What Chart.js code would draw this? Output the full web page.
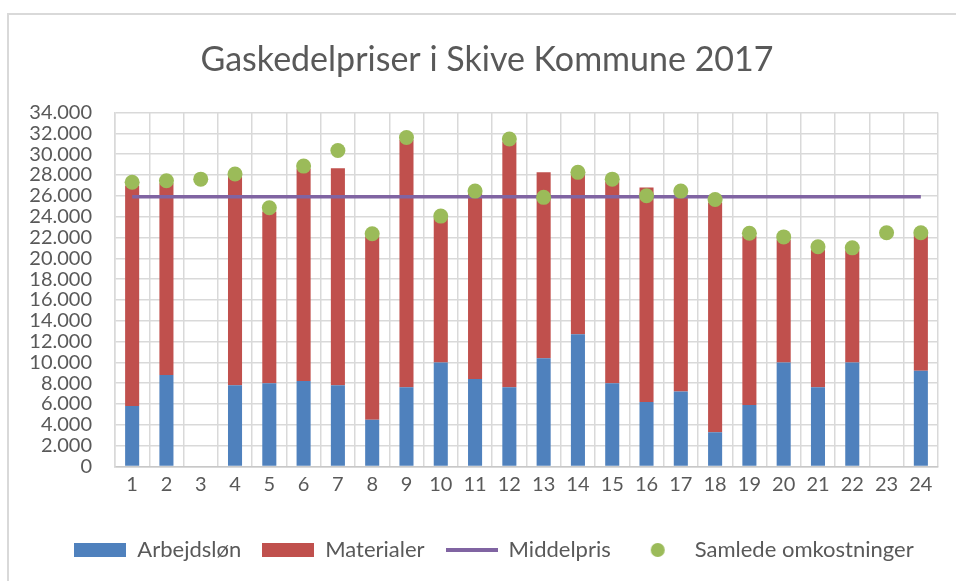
<!DOCTYPE html>
<html>
<head>
<meta charset="utf-8">
<script src="https://cdn.jsdelivr.net/npm/chart.js@4/dist/chart.umd.min.js"></script>
<style>
  html, body { margin: 0; padding: 0; background: #fff; }
  #ramme { position: absolute; left: 7px; top: 13px; width: 1000px; height: 1000px; border: 2px solid #d9d9d9; }
  #holder { position: absolute; left: 0; top: 0; width: 956px; height: 581px; }
</style>
</head>
<body>
<div id="ramme"></div>
<div id="holder"><canvas id="gaskedel"></canvas></div>
<script>
// Data
const kategorier = ['1','2','3','4','5','6','7','8','9','10','11','12','13','14','15','16','17','18','19','20','21','22','23','24'];
const arbejdslon = [5800, 8800, null, 7800, 8000, 8200, 7800, 4500, 7600, 10000, 8400, 7600, 10400, 12700, 8000, 6200, 7200, 3300, 5900, 10000, 7600, 10000, null, 9200];
const materialer = [21200, 18400, null, 20000, 16500, 20400, 20850, 17600, 23750, 13850, 17850, 23600, 17850, 15300, 19350, 20600, 18900, 22050, 16250, 11750, 13200, 10750, null, 13050];
const middelpris = [25900, 25900, 25900, 25900, 25900, 25900, 25900, 25900, 25900, 25900, 25900, 25900, 25900, 25900, 25900, 25900, 25900, 25900, 25900, 25900, 25900, 25900, 25900, 25900];
const samlede = [27300, 27450, 27600, 28100, 24850, 28850, 30350, 22350, 31600, 24050, 26450, 31450, 25850, 28250, 27600, 26000, 26450, 25650, 22400, 22050, 21100, 21000, 22450, 22450];

const BLAA = '#4f81bd', ROED = '#c0504d', LILLA = '#8064a2', GROEN = '#9bbb59';
const TEKST = '#595959';
const FONT = 'Lato, "Open Sans", sans-serif';

// Små ikoner til legenden
function ikon(tegn) {
    const c = document.createElement('canvas');
    c.width = 52; c.height = 16;
    tegn(c.getContext('2d'));
    return c;
}
const ikoner = [
    ikon(g => { g.fillStyle = BLAA; g.fillRect(0, 1, 52, 14); }),
    ikon(g => { g.fillStyle = ROED; g.fillRect(0, 1, 52, 14); }),
    ikon(g => { g.fillStyle = LILLA; g.fillRect(0, 6, 52, 4); }),
    ikon(g => { g.fillStyle = GROEN; g.beginPath(); g.arc(26, 8, 7, 0, Math.PI * 2); g.fill(); })
];

// Titel og legende står lidt til højre for midten i originalen
const flytBokse = {
    id: 'flytBokse',
    afterLayout(chart) {
        chart.legend.left += 25;
        chart.legend.right += 25;
        chart.titleBlock.left += 18;
        chart.titleBlock.right += 18;
    }
};

const ctx = document.getElementById('gaskedel').getContext('2d');
new Chart(ctx, {
    data: {
        labels: kategorier,
        datasets: [
            { type: 'bar', label: 'Arbejdsløn', data: arbejdslon, backgroundColor: BLAA, stack: 'pris', order: 2 },
            { type: 'bar', label: 'Materialer', data: materialer, backgroundColor: ROED, stack: 'pris', order: 3 },
            { type: 'line', label: 'Middelpris', data: middelpris, borderColor: LILLA, backgroundColor: LILLA,
              borderWidth: 3.5, pointRadius: 0, stack: 'middel', order: 1 },
            { type: 'line', label: 'Samlede omkostninger', data: samlede, showLine: false,
              backgroundColor: GROEN, borderColor: GROEN, pointRadius: 7.5, pointBorderWidth: 0,
              stack: 'samlet', order: 0 }
        ]
    },
    plugins: [flytBokse],
    options: {
        responsive: true,
        maintainAspectRatio: false,
        animation: false,
        datasets: { bar: { categoryPercentage: 1, barPercentage: 0.41 } },
        layout: { padding: { left: 0, right: 18, top: 0, bottom: 10 } },
        plugins: {
            tooltip: { enabled: false },
            title: {
                display: true,
                text: 'Gaskedelpriser i Skive Kommune 2017',
                color: TEKST,
                font: { family: FONT, size: 34, weight: 'normal', lineHeight: 1.2 },
                padding: { top: 40, bottom: 31.7 }
            },
            legend: {
                position: 'bottom',
                labels: {
                    color: TEKST,
                    font: { family: FONT, size: 22 },
                    usePointStyle: true,
                    pointStyleWidth: 52,
                    boxHeight: 14,
                    padding: 21,
                    generateLabels(chart) {
                        const items = Chart.defaults.plugins.legend.labels.generateLabels(chart);
                        items.sort((a, b) => a.datasetIndex - b.datasetIndex);
                        items.forEach(it => { it.pointStyle = ikoner[it.datasetIndex]; });
                        return items;
                    }
                }
            }
        },
        scales: {
            x: {
                stacked: true,
                grid: { color: '#d9d9d9', lineWidth: 1.5, drawTicks: false, offset: true },
                border: { color: '#c8c8c8', width: 1.5 },
                ticks: { color: TEKST, font: { family: FONT, size: 20 }, padding: 6 },
                afterFit(scale) { scale.height = 51.5; }
            },
            y: {
                stacked: true,
                min: 0,
                max: 34000,
                grid: { color: '#d9d9d9', lineWidth: 1.5, drawTicks: false },
                border: { color: '#d9d9d9', width: 1.5 },
                ticks: {
                    stepSize: 2000,
                    autoSkip: false,
                    color: TEKST,
                    font: { family: FONT, size: 20 },
                    padding: 23,
                    callback: v => v === 0 ? '0' : (v / 1000) + '.000'
                },
                afterFit(scale) { scale.width = 115; }
            }
        }
    }
});
</script>
</body>
</html>
